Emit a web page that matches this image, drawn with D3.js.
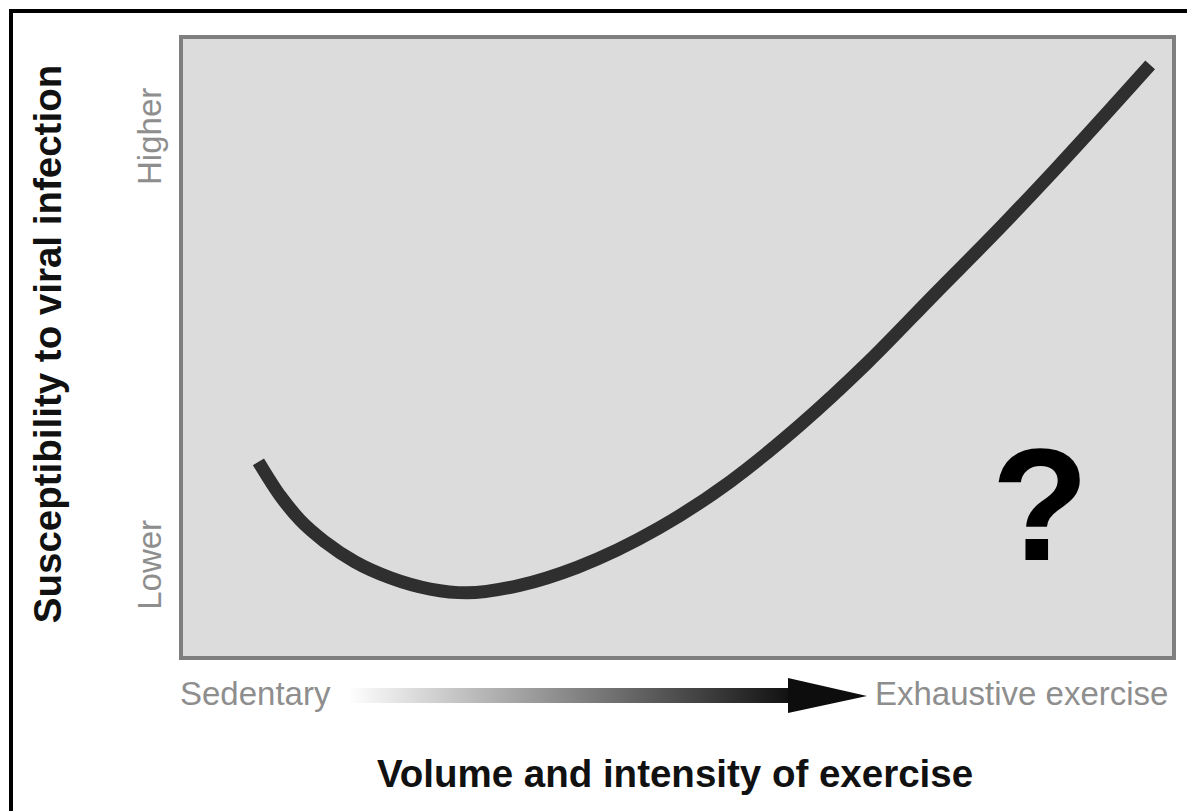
<!DOCTYPE html>
<html>
<head>
<meta charset="utf-8">
<script src="https://cdn.jsdelivr.net/npm/d3@7"></script>
<style>
	body { margin: 0; background: #fff; }
	text { font-family: "Liberation Sans", Arial, sans-serif; }
</style>
</head>
<body>
<div id="chart"></div>
<script>
// exercise level (0 = sedentary, 100 = exhaustive) and susceptibility (0-100)
var exercise = [7.8, 10.0, 12.0, 14.5, 17.5, 21.1, 25.1, 28.8, 34.1, 39.9, 48.1, 55.3, 62.4, 69.1, 75.9, 82.8, 88.0, 97.6];
var susceptibility = [31.6, 26.1, 22.2, 18.7, 15.5, 12.9, 11.1, 10.5, 11.7, 14.6, 20.9, 28.4, 37.6, 47.5, 58.6, 69.8, 78.6, 95.5];

var yLevels = ["Lower", "Higher"];
var yLevelPos = [15, 84];
var xLevels = ["Sedentary", "Exhaustive exercise"];
var xTitle = "Volume and intensity of exercise";
var yTitle = "Susceptibility to viral infection";

function init() {
	var w = 1187;
	var h = 811;

	var dataset = exercise.map(function(d, i) {
		return { x: d, y: susceptibility[i] };
	});

	var xScale = d3.scaleLinear()
		.domain([0, 100])
		.range([181, 1174]);

	var yScale = d3.scaleLinear()
		.domain([0, 100])
		.range([658, 37]);

	var svg = d3.select("#chart")
		.append("svg")
		.attr("width", w)
		.attr("height", h);

	// outer frame (only top and left edges are visible)
	svg.append("rect")
		.attr("x", 11)
		.attr("y", 11)
		.attr("width", 1400)
		.attr("height", 1000)
		.attr("fill", "none")
		.attr("stroke", "#000")
		.attr("stroke-width", 4);

	// plot panel
	svg.append("rect")
		.attr("x", xScale(0))
		.attr("y", yScale(100))
		.attr("width", xScale(100) - xScale(0))
		.attr("height", yScale(0) - yScale(100))
		.attr("fill", "#dcdcdc")
		.attr("stroke", "#7f7f7f")
		.attr("stroke-width", 4);

	var line = d3.line()
		.x(function(d) { return xScale(d.x); })
		.y(function(d) { return yScale(d.y); })
		.curve(d3.curveMonotoneX);

	svg.append("path")
		.datum(dataset)
		.attr("d", line)
		.attr("fill", "none")
		.attr("stroke", "#2f2f2f")
		.attr("stroke-width", 13)
		.attr("stroke-linecap", "butt");

	svg.append("text")
		.attr("x", 1040)
		.attr("y", 560)
		.attr("text-anchor", "middle")
		.attr("font-size", 160)
		.attr("font-weight", "bold")
		.attr("fill", "#000")
		.text("?");

	// y axis level labels
	svg.selectAll(".ylevel")
		.data(yLevels)
		.enter()
		.append("text")
		.attr("class", "ylevel")
		.attr("transform", function(d, i) {
			return "translate(161," + yScale(yLevelPos[i]) + ") rotate(-90)";
		})
		.attr("text-anchor", "middle")
		.attr("font-size", 33)
		.attr("fill", "#8e8e8e")
		.text(function(d) { return d; });

	svg.append("text")
		.attr("transform", "translate(61,344) rotate(-90)")
		.attr("text-anchor", "middle")
		.attr("font-size", 38.5)
		.attr("font-weight", "bold")
		.attr("fill", "#111")
		.text(yTitle);

	// x axis: gradient arrow between the two end labels
	var grad = svg.append("defs")
		.append("linearGradient")
		.attr("id", "arrowGrad")
		.attr("x1", "0%").attr("x2", "100%")
		.attr("y1", "0%").attr("y2", "0%");
	grad.append("stop").attr("offset", "0%").attr("stop-color", "#fff");
	grad.append("stop").attr("offset", "100%").attr("stop-color", "#111");

	svg.append("rect")
		.attr("x", 348)
		.attr("y", 688)
		.attr("width", 442)
		.attr("height", 15)
		.attr("fill", "url(#arrowGrad)");

	svg.append("polygon")
		.attr("points", "788,678 867,696 788,713")
		.attr("fill", "#0d0d0d");

	svg.append("text")
		.attr("x", 180)
		.attr("y", 705)
		.attr("font-size", 33)
		.attr("fill", "#8e8e8e")
		.text(xLevels[0]);

	svg.append("text")
		.attr("x", 875)
		.attr("y", 705)
		.attr("font-size", 33)
		.attr("fill", "#8e8e8e")
		.text(xLevels[1]);

	svg.append("text")
		.attr("x", 675)
		.attr("y", 787)
		.attr("text-anchor", "middle")
		.attr("font-size", 38.5)
		.attr("font-weight", "bold")
		.attr("fill", "#111")
		.text(xTitle);
}

window.onload = init;
</script>
</body>
</html>
